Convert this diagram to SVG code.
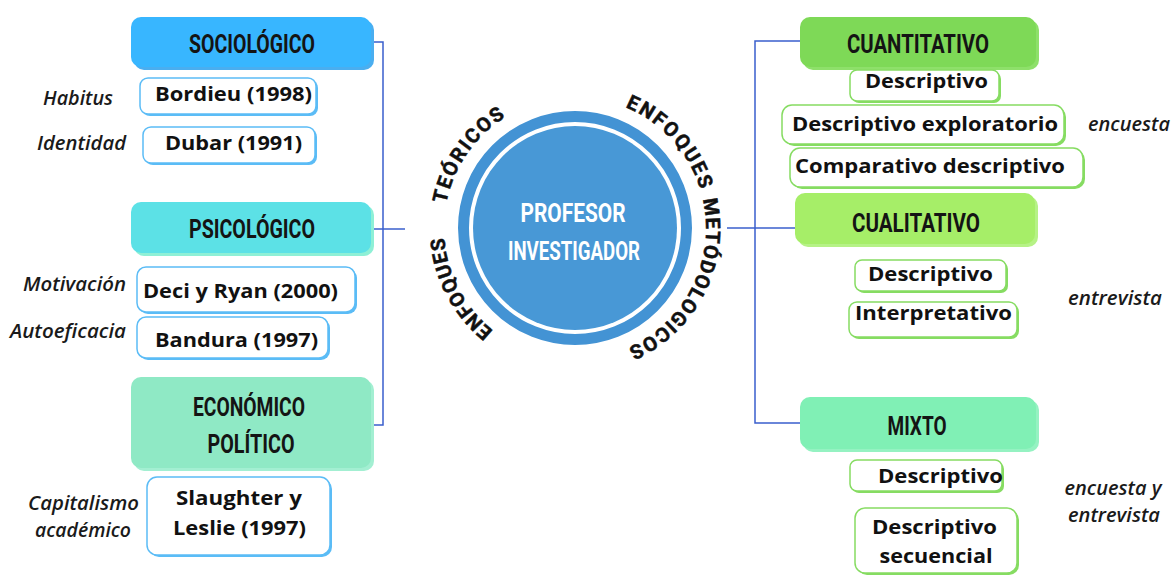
<svg xmlns="http://www.w3.org/2000/svg" width="1173" height="576" viewBox="0 0 1173 576">
<style>
.hdr{font-family:Roboto,"Liberation Sans",sans-serif;font-weight:700;font-size:26px;fill:#141414;text-anchor:middle}
.it{font-family:"Open Sans","Liberation Sans",sans-serif;font-weight:700;font-size:20px;fill:#111;text-anchor:middle}
.nt{font-family:"Open Sans","Liberation Sans",sans-serif;font-style:italic;font-weight:600;font-size:19px;fill:#1a1a1a}
.ntr{text-anchor:end}
.ntm{text-anchor:middle}
.arc{font-family:Roboto,"DejaVu Sans",sans-serif;font-weight:700;font-size:20px;fill:#111;stroke:#111;stroke-width:0.5}
.ctr{font-family:Roboto,"Liberation Sans",sans-serif;font-weight:700;fill:#ffffff;text-anchor:middle}
.bb{fill:#ffffff;stroke:#5bbcf6;stroke-width:1.5}
.bs{fill:#5bbcf6}
.gb{fill:#ffffff;stroke:#86dc62;stroke-width:1.5}
.gs{fill:#86dc62}
.con{fill:none;stroke:#3a5fcd;stroke-width:1.5}
</style>
<defs>
<path id="ring" d="M575,359 A131,131 0 1,1 575,97 A131,131 0 1,1 575,359"/>
</defs>

<g id="connectors">
<path class="con" d="M373,42 H383 V425 H373"/>
<path class="con" d="M373,229 H405"/>
<path class="con" d="M800,41 H755 V423 H800"/>
<path class="con" d="M727,228 H795"/>
</g>

<g id="center">
<circle cx="575" cy="228" r="111.5" fill="none" stroke="#4393d4" stroke-width="11"/>
<circle cx="575" cy="228" r="102" fill="#4898d6"/>
<text class="ctr" x="573" y="222" font-size="26" textLength="105" lengthAdjust="spacingAndGlyphs">PROFESOR</text>
<text class="ctr" x="574" y="260" font-size="25" textLength="132" lengthAdjust="spacingAndGlyphs">INVESTIGADOR</text>
</g>

<g id="arc-teoricos">
<text class="arc"><textPath href="#ring" startOffset="88" textLength="108" lengthAdjust="spacing">ENFOQUES</textPath></text>
<text class="arc"><textPath href="#ring" startOffset="230" textLength="108" lengthAdjust="spacing">TEÓRICOS</textPath></text>
</g>
<g id="arc-metodologicos">
<text class="arc"><textPath href="#ring" startOffset="463" textLength="115" lengthAdjust="spacing">ENFOQUES</textPath></text>
<text class="arc"><textPath href="#ring" startOffset="588" textLength="180" lengthAdjust="spacing">METÓDOLOGICOS</textPath></text>
</g>

<g id="sociologico">
<rect x="134" y="20" width="240" height="50" rx="10" fill="#4aaef0"/>
<rect x="131" y="17" width="240" height="50" rx="10" fill="#38b6ff"/>
<text class="hdr" x="252" y="53" textLength="126" lengthAdjust="spacingAndGlyphs">SOCIOLÓGICO</text>
</g>
<g id="bordieu">
<rect class="bs" x="142" y="80" width="176" height="36" rx="8"/>
<rect class="bb" x="140" y="78" width="176" height="36" rx="8"/>
<text class="it" x="233.5" y="101" textLength="157" lengthAdjust="spacingAndGlyphs">Bordieu (1998)</text>
</g>
<g id="dubar">
<rect class="bs" x="145" y="129" width="172" height="36" rx="8"/>
<rect class="bb" x="143" y="127" width="172" height="36" rx="8"/>
<text class="it" x="233.5" y="150" textLength="137" lengthAdjust="spacingAndGlyphs">Dubar (1991)</text>
</g>
<text class="nt" x="43" y="105" textLength="70" lengthAdjust="spacingAndGlyphs">Habitus</text>
<text class="nt" x="37" y="150" textLength="89" lengthAdjust="spacingAndGlyphs">Identidad</text>

<g id="psicologico">
<rect x="134" y="205" width="240" height="51" rx="10" fill="#8ef0d6"/>
<rect x="131" y="202" width="240" height="51" rx="10" fill="#5ce1e6"/>
<text class="hdr" x="252" y="238" textLength="126" lengthAdjust="spacingAndGlyphs">PSICOLÓGICO</text>
</g>
<g id="deci">
<rect class="bs" x="139" y="269" width="218" height="45" rx="9"/>
<rect class="bb" x="137" y="267" width="218" height="45" rx="9"/>
<text class="it" x="240.5" y="298" textLength="195" lengthAdjust="spacingAndGlyphs">Deci y Ryan (2000)</text>
</g>
<g id="bandura">
<rect class="bs" x="139" y="319" width="191" height="41" rx="9"/>
<rect class="bb" x="137" y="317" width="191" height="41" rx="9"/>
<text class="it" x="236.5" y="347" textLength="163" lengthAdjust="spacingAndGlyphs">Bandura (1997)</text>
</g>
<text class="nt ntr" x="126" y="291" textLength="103" lengthAdjust="spacingAndGlyphs">Motivación</text>
<text class="nt ntr" x="126" y="338" textLength="116" lengthAdjust="spacingAndGlyphs">Autoeficacia</text>

<g id="economico">
<rect x="134" y="380" width="240" height="91" rx="10" fill="#a3efd2"/>
<rect x="131" y="377" width="240" height="91" rx="10" fill="#8fe9c5"/>
<text class="hdr" x="249" y="416" textLength="112" lengthAdjust="spacingAndGlyphs">ECONÓMICO</text>
<text class="hdr" x="251" y="453" textLength="87" lengthAdjust="spacingAndGlyphs">POLÍTICO</text>
</g>
<g id="slaughter">
<rect class="bs" x="149" y="479" width="183" height="78" rx="10"/>
<rect class="bb" x="147" y="477" width="183" height="78" rx="10"/>
<text class="it" x="239" y="505" textLength="126" lengthAdjust="spacingAndGlyphs">Slaughter y</text>
<text class="it" x="239.5" y="535" textLength="133" lengthAdjust="spacingAndGlyphs">Leslie (1997)</text>
</g>
<text class="nt ntm" x="83.5" y="510" textLength="111" lengthAdjust="spacingAndGlyphs">Capitalismo</text>
<text class="nt ntm" x="83" y="537" textLength="96" lengthAdjust="spacingAndGlyphs">académico</text>

<g id="cuantitativo">
<rect x="803" y="20" width="236" height="50" rx="10" fill="#8ee06a"/>
<rect x="800" y="17" width="236" height="50" rx="10" fill="#7ed957"/>
<text class="hdr" x="918" y="53" textLength="142" lengthAdjust="spacingAndGlyphs">CUANTITATIVO</text>
</g>
<g id="descriptivo1">
<rect class="gs" x="852" y="72" width="149" height="31" rx="7"/>
<rect class="gb" x="850" y="70" width="149" height="31" rx="7"/>
<text class="it" x="926.5" y="88" textLength="123" lengthAdjust="spacingAndGlyphs">Descriptivo</text>
</g>
<g id="exploratorio">
<rect class="gs" x="784" y="107" width="282" height="39" rx="10"/>
<rect class="gb" x="782" y="105" width="282" height="39" rx="10"/>
<text class="it" x="925" y="131" textLength="266" lengthAdjust="spacingAndGlyphs">Descriptivo exploratorio</text>
</g>
<g id="comparativo">
<rect class="gs" x="792" y="150" width="293" height="39" rx="10"/>
<rect class="gb" x="790" y="148" width="293" height="39" rx="10"/>
<text class="it" x="930" y="173" textLength="270" lengthAdjust="spacingAndGlyphs">Comparativo descriptivo</text>
</g>
<text class="nt" x="1088" y="131" textLength="82" lengthAdjust="spacingAndGlyphs">encuesta</text>

<g id="cualitativo">
<rect x="798" y="196" width="240" height="51" rx="10" fill="#b6f286"/>
<rect x="795" y="193" width="240" height="51" rx="10" fill="#a6ee68"/>
<text class="hdr" x="916" y="232" textLength="128" lengthAdjust="spacingAndGlyphs">CUALITATIVO</text>
</g>
<g id="descriptivo2">
<rect class="gs" x="857" y="262" width="151" height="31" rx="7"/>
<rect class="gb" x="855" y="260" width="151" height="31" rx="7"/>
<text class="it" x="930.5" y="281" textLength="125" lengthAdjust="spacingAndGlyphs">Descriptivo</text>
</g>
<g id="interpretativo">
<rect class="gs" x="851" y="304" width="168" height="35" rx="8"/>
<rect class="gb" x="849" y="302" width="168" height="35" rx="8"/>
<text class="it" x="933.5" y="320" textLength="157" lengthAdjust="spacingAndGlyphs">Interpretativo</text>
</g>
<text class="nt" x="1068" y="305" textLength="94" lengthAdjust="spacingAndGlyphs">entrevista</text>

<g id="mixto">
<rect x="803" y="400" width="236" height="52" rx="10" fill="#95f2c2"/>
<rect x="800" y="397" width="236" height="52" rx="10" fill="#80f0b5"/>
<text class="hdr" x="917" y="435" textLength="59" lengthAdjust="spacingAndGlyphs">MIXTO</text>
</g>
<g id="descriptivo3">
<rect class="gs" x="852" y="462" width="152" height="31" rx="7"/>
<rect class="gb" x="850" y="460" width="152" height="31" rx="7"/>
<text class="it" x="940.5" y="483" textLength="125" lengthAdjust="spacingAndGlyphs">Descriptivo</text>
</g>
<g id="secuencial">
<rect class="gs" x="857" y="510" width="162" height="65" rx="10"/>
<rect class="gb" x="855" y="508" width="162" height="65" rx="10"/>
<text class="it" x="934.5" y="534" textLength="125" lengthAdjust="spacingAndGlyphs">Descriptivo</text>
<text class="it" x="936" y="563" textLength="113" lengthAdjust="spacingAndGlyphs">secuencial</text>
</g>
<text class="nt ntm" x="1113" y="495" textLength="97" lengthAdjust="spacingAndGlyphs">encuesta y</text>
<text class="nt ntm" x="1114" y="522" textLength="92" lengthAdjust="spacingAndGlyphs">entrevista</text>
</svg>
